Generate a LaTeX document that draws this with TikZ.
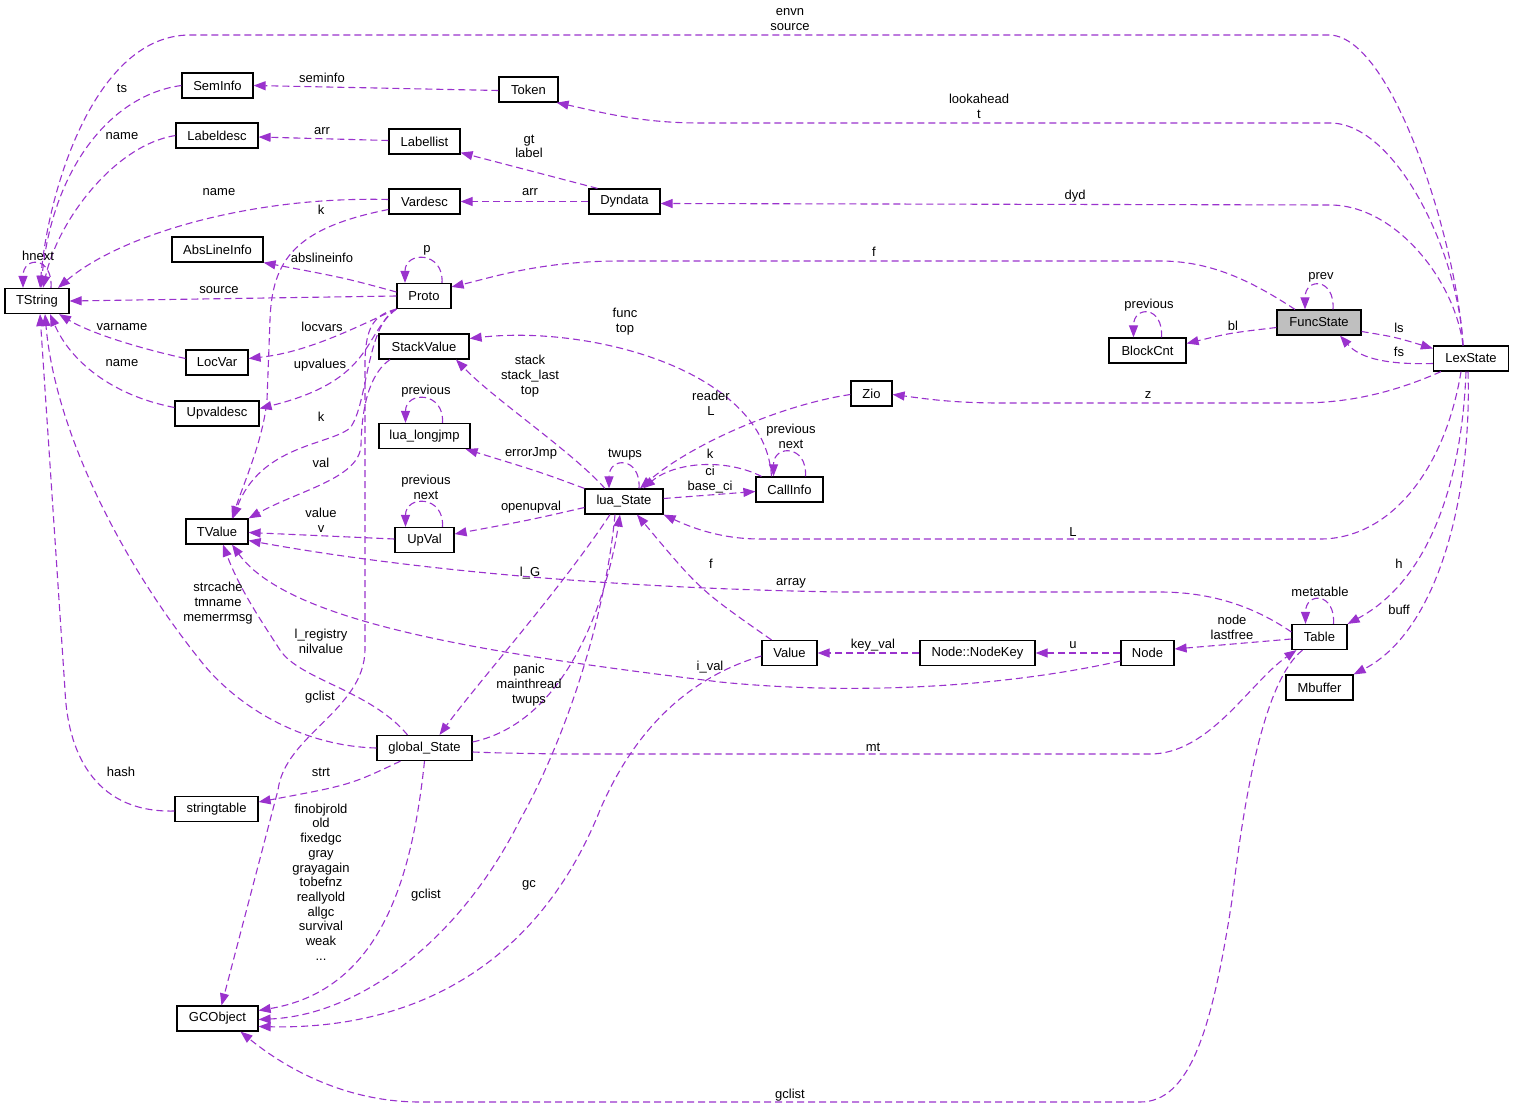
\documentclass[tikz,border=0pt]{standalone}
\usepackage{fontspec}
\setmainfont{Liberation Sans}
\usetikzlibrary{arrows.meta}
\definecolor{orchid}{HTML}{9A32CD}

\begin{document}
\begin{tikzpicture}[
    x=1pt, y=-1pt,
    every node/.style={font=\fontsize{13}{14.7}\selectfont},
    cls/.style={draw=black, line width=1.2pt, inner sep=0pt,
      minimum height=25pt},
    cur/.style={cls, fill=gray!50},
    rel/.style={draw=orchid, dash pattern=on 7pt off 4pt, line width=1.1pt,
      -{Triangle[length=12pt,width=9pt]}},
    lbl/.style={align=center, inner sep=0pt},
  ]
  \useasboundingbox (0,0) rectangle (1513,1108);

  \node[cls, minimum width=64pt] (TString) at (37,301) {TString};
  \node[cls, minimum width=71pt] (SemInfo) at (217.5,85.5) {SemInfo};
  \node[cls, minimum width=82pt] (Labeldesc) at (217,135.5) {Labeldesc};
  \node[cls, minimum width=71pt] (Labellist) at (424.5,141.5) {Labellist};
  \node[cls, minimum width=71pt] (Vardesc) at (424.5,201.5) {Vardesc};
  \node[cls, minimum width=91pt] (AbsLineInfo) at (217.5,249.5) {AbsLineInfo};
  \node[cls, minimum width=54pt] (Proto) at (424,296) {Proto};
  \node[cls, minimum width=59pt] (Token) at (528.5,89.5) {Token};
  \node[cls, minimum width=71pt] (Dyndata) at (624.5,201.5) {Dyndata};
  \node[cur, minimum width=84pt] (FuncState) at (1319,322.5) {FuncState};
  \node[cls, minimum width=77pt] (BlockCnt) at (1147.5,350.5) {BlockCnt};
  \node[cls, minimum width=75pt] (LexState) at (1471,358.5) {LexState};
  \node[cls, minimum width=41pt] (Zio) at (871.5,393.5) {Zio};
  \node[cls, minimum width=90pt] (StackValue) at (424,346.5) {StackValue};
  \node[cls, minimum width=62pt] (LocVar) at (217,362.5) {LocVar};
  \node[cls, minimum width=84pt] (Upvaldesc) at (217,413.5) {Upvaldesc};
  \node[cls, minimum width=91pt] (LongJmp) at (424.5,436) {lua\_longjmp};
  \node[cls, minimum width=67pt] (CallInfo) at (789.5,489.5) {CallInfo};
  \node[cls, minimum width=78pt] (LuaState) at (624,501.5) {lua\_State};
  \node[cls, minimum width=62pt] (TValue) at (217,531.5) {TValue};
  \node[cls, minimum width=59pt] (UpVal) at (424.5,540) {UpVal};
  \node[cls, minimum width=55pt] (Value) at (789.5,653) {Value};
  \node[cls, minimum width=115pt] (NodeKey) at (977.5,653) {Node::NodeKey};
  \node[cls, minimum width=53pt] (Node) at (1147.5,653) {Node};
  \node[cls, minimum width=55pt] (Table) at (1319.5,637) {Table};
  \node[cls, minimum width=67pt] (Mbuffer) at (1319.5,687.5) {Mbuffer};
  \node[cls, minimum width=95pt] (GlobalState) at (424.5,748) {global\_State};
  \node[cls, minimum width=83pt] (StringTable) at (216.5,809) {stringtable};
  \node[cls, minimum width=81pt] (GCObject) at (217.5,1018.5) {GCObject};

  \draw[rel] ([xshift=14pt]TString.north) .. controls +(2,-32) and +(0,-32) .. ([xshift=-14pt]TString.north);
  \draw[rel] ([xshift=-8pt]LexState.north) .. controls (1458,250) and (1395,38) .. (1330,35) -- (190,35) .. controls (95,35) and (48,190) .. ([xshift=3pt]TString.north);
  \draw[rel] (SemInfo.west) .. controls (110,95) and (52,170) .. ([xshift=4pt]TString.north);
  \draw[rel] (Labeldesc.west) .. controls (115,145) and (58,220) .. ([xshift=6pt]TString.north);
  \draw[rel] ([yshift=2pt]Vardesc.west) .. controls (250,196) and (120,235) .. ([xshift=21pt]TString.north);
  \draw[rel] ([yshift=-1pt]Token.west) -- (SemInfo.east);
  \draw[rel] ([yshift=1pt]Labellist.west) -- ([yshift=-1.5pt]Labeldesc.east);
  \draw[rel] ([xshift=-8pt]LexState.north) .. controls (1458,250) and (1395,123) .. (1330,123) -- (700,123) .. controls (640,123) and (600,112) .. ([xshift=-2pt]Token.south east);
  \draw[rel] ([xshift=-8pt]LexState.north) .. controls (1455,280) and (1395,205) .. (1330,205) -- ([yshift=-2pt]Dyndata.east);
  \draw[rel] ([xshift=-24pt]FuncState.north) .. controls (1250,280) and (1210,261) .. (1160,261) -- (620,261) .. controls (540,261) and (490,278) .. ([yshift=-4pt]Proto.north east);
  \draw[rel] ([xshift=14pt]FuncState.north) .. controls +(2,-32) and +(0,-32) .. ([xshift=-14pt]FuncState.north);
  \draw[rel] ([yshift=-5pt]FuncState.west) .. controls (1230,333) .. ([yshift=7pt]BlockCnt.east);
  \draw[rel] ([xshift=14pt]BlockCnt.north) .. controls +(2,-32) and +(0,-32) .. ([xshift=-14pt]BlockCnt.north);
  \draw[rel] ([yshift=-9pt]FuncState.east) .. controls (1395,337) .. ([yshift=10pt]LexState.west);
  \draw[rel] ([yshift=-5pt]LexState.west) .. controls (1380,365) and (1358,356) .. ([xshift=21pt]FuncState.south);
  \draw[rel] ([xshift=-30pt]LexState.south) .. controls (1395,392) and (1350,403) .. (1300,403) -- (1000,403) .. controls (950,403) and (920,398) .. ([yshift=-1pt]Zio.east);
  \draw[rel] ([xshift=-10pt]LexState.south) .. controls (1445,470) and (1390,539) .. (1320,539) -- (760,539) .. controls (720,539) and (690,527) .. (LuaState.south east);
  \draw[rel] ([xshift=-5pt]LexState.south) .. controls (1462,480) and (1430,580) .. (Table.north east);
  \draw[rel] ([xshift=-3pt]LexState.south) .. controls (1472,490) and (1440,630) .. (Mbuffer.north east);
  \draw[rel] ([xshift=-27pt]Dyndata.north) -- ([yshift=2pt]Labellist.south east);
  \draw[rel] (Dyndata.west) -- (Vardesc.east);
  \draw[rel] ([yshift=-8pt]Vardesc.west) .. controls (295,228) and (272,260) .. (270,320) -- (267,400) .. controls (263,440) and (245,480) .. ([xshift=15pt]TValue.north);
  \draw[rel] ([xshift=18pt]Proto.north) .. controls +(2,-32) and +(0,-32) .. ([xshift=-19pt]Proto.north);
  \draw[rel] ([yshift=4pt]Proto.west) .. controls (345,278) .. (AbsLineInfo.south east);
  \draw[rel] (Proto.west) -- (TString.east);
  \draw[rel] (Proto.south west) .. controls (360,325) and (310,352) .. ([yshift=4pt]LocVar.east);
  \draw[rel] (Proto.south west) .. controls (362,335) and (375,380) .. ([yshift=5pt]Upvaldesc.east);
  \draw[rel] (Proto.south west) .. controls (366,325) and (368,405) .. (350,428) .. controls (330,445) and (260,445) .. ([xshift=16pt]TValue.north);
  \draw[rel] (Proto.south west) .. controls (372,315) and (366,330) .. (365,360) -- (365,650) .. controls (364,710) and (285,735) .. (278,790) -- ([xshift=4pt]GCObject.north);
  \draw[rel] ([xshift=-34pt]StackValue.south) .. controls (372,372) and (362,400) .. (361,445) .. controls (360,478) and (300,490) .. (TValue.north east);
  \draw[rel] ([yshift=1pt]UpVal.west) -- ([yshift=-1pt]TValue.east);
  \draw[rel] ([yshift=5pt]Table.west) .. controls (1262,612) and (1220,592) .. (1160,592) -- (840,592) .. controls (600,588) and (400,568) .. ([yshift=-9pt]TValue.east);
  \draw[rel] ([yshift=-8pt]Node.west) .. controls (1000,688) and (850,695) .. (720,682) .. controls (500,655) and (290,625) .. ([xshift=15pt]TValue.south);
  \draw[rel] ([xshift=-17pt]GlobalState.north) .. controls (370,690) and (300,680) .. (280,650) .. controls (262,622) and (240,590) .. ([xshift=6pt]TValue.south);
  \draw[rel] (GlobalState.west) .. controls (300,746) and (235,705) .. (200,660) .. controls (120,560) and (55,430) .. ([xshift=8pt]TString.south);
  \draw[rel] ([yshift=4pt]LocVar.west) .. controls (125,345) and (85,330) .. ([xshift=22pt]TString.south);
  \draw[rel] ([yshift=6pt]Upvaldesc.west) .. controls (110,395) and (70,360) .. ([xshift=13pt]TString.south);
  \draw[rel] ([yshift=-2pt]StringTable.west) .. controls (100,813) and (68,760) .. (65,690) -- ([xshift=3pt]TString.south);
  \draw[rel] ([xshift=-19pt]LuaState.north) .. controls (570,450) and (495,400) .. ([xshift=32pt]StackValue.south);
  \draw[rel] (LuaState.north west) .. controls (540,472) .. ([xshift=-5pt]LongJmp.south east);
  \draw[rel] ([xshift=18pt]LongJmp.north) .. controls +(2,-32) and +(0,-32) .. ([xshift=-19pt]LongJmp.north);
  \draw[rel] ([yshift=-6pt]LuaState.west) .. controls (530,520) .. ([yshift=6pt]UpVal.east);
  \draw[rel] ([xshift=18pt]UpVal.north) .. controls +(2,-32) and +(0,-32) .. ([xshift=-19pt]UpVal.north);
  \draw[rel] ([xshift=-18pt]CallInfo.north) .. controls (765,370) and (590,325) .. ([yshift=8pt]StackValue.east);
  \draw[rel] ([yshift=-1pt]Zio.west) .. controls (780,405) and (690,445) .. ([xshift=16pt]LuaState.north);
  \draw[rel] ([xshift=-28pt]CallInfo.north) .. controls (725,458) and (675,462) .. ([xshift=19pt]LuaState.north);
  \draw[rel] ([yshift=3pt]LuaState.east) -- ([yshift=-2pt]CallInfo.west);
  \draw[rel] ([xshift=15pt]LuaState.north) .. controls +(2,-32) and +(0,-32) .. ([xshift=-15pt]LuaState.north);
  \draw[rel] ([xshift=16pt]CallInfo.north) .. controls +(2,-32) and +(0,-32) .. ([xshift=-16pt]CallInfo.north);
  \draw[rel] ([xshift=-18pt]Value.north) .. controls (700,590) .. ([xshift=13pt]LuaState.south);
  \draw[rel] ([xshift=-14pt]LuaState.south) .. controls (560,590) and (480,680) .. ([xshift=15pt]GlobalState.north);
  \draw[rel] ([yshift=6pt]GlobalState.east) .. controls (575,720) and (610,580) .. ([xshift=-4pt]LuaState.south);
  \draw[rel] ([xshift=-9pt]LuaState.south) .. controls (605,620) and (565,740) .. (520,820) .. controls (460,940) and (360,1015) .. ([yshift=-1pt]GCObject.east);
  \draw[rel] ([yshift=-3pt]Value.west) .. controls (680,680) and (630,740) .. (600,810) .. controls (540,960) and (420,1030) .. ([yshift=-8pt]GCObject.east);
  \draw[rel] (GlobalState.south) .. controls (412,880) and (380,990) .. ([yshift=8pt]GCObject.east);
  \draw[rel] ([xshift=-24pt]GlobalState.south) .. controls (350,785) .. ([yshift=7pt]StringTable.east);
  \draw[rel] ([yshift=-4pt]GlobalState.east) .. controls (500,753) .. (560,754) -- (1150,754) .. controls (1210,754) and (1250,682) .. ([xshift=-23pt]Table.south);
  \draw[rel] ([xshift=-17pt]Table.south) .. controls (1265,680) and (1245,790) .. (1232,900) .. controls (1212,1030) and (1190,1102) .. (1140,1102) -- (420,1102) .. controls (350,1102) and (290,1072) .. ([xshift=23pt]GCObject.south);
  \draw[rel] ([xshift=14pt]Table.north) .. controls +(2,-32) and +(0,-32) .. ([xshift=-14pt]Table.north);
  \draw[rel] ([yshift=-2pt]Table.west) -- ([yshift=4pt]Node.east);
  \draw[rel] (Node.west) -- (NodeKey.east);
  \draw[rel] (NodeKey.west) -- (Value.east);

  \node[lbl] (l-hnext) at (38,256) {hnext};
  \node[lbl] (l-envn) at (790,19.5) {envn\\source};
  \node[lbl] (l-ts) at (122,88) {ts};
  \node[lbl] (l-seminfo) at (322,78) {seminfo};
  \node[lbl] (l-ldname) at (122,136) {name};
  \node[lbl] (l-llarr) at (322,131) {arr};
  \node[lbl] (l-look) at (979,106.5) {lookahead\\t};
  \node[lbl] (l-gt) at (529,146.5) {gt\\label};
  \node[lbl] (l-vdname) at (219,192) {name};
  \node[lbl] (l-ddarr) at (530,192) {arr};
  \node[lbl] (l-dyd) at (1075,196) {dyd};
  \node[lbl] (l-vdk) at (321,210) {k};
  \node[lbl] (l-absl) at (322,258) {abslineinfo};
  \node[lbl] (l-p) at (427,250) {p};
  \node[lbl] (l-f) at (874,252) {f};
  \node[lbl] (l-source) at (219,290) {source};
  \node[lbl] (l-prev) at (1321,277) {prev};
  \node[lbl] (l-bcprev) at (1149,305) {previous};
  \node[lbl] (l-func) at (625,321.5) {func\\top};
  \node[lbl] (l-bl) at (1233,326) {bl};
  \node[lbl] (l-ls) at (1399,328) {ls};
  \node[lbl] (l-varname) at (122,327) {varname};
  \node[lbl] (l-locvars) at (322,327) {locvars};
  \node[lbl] (l-fs) at (1399,352) {fs};
  \node[lbl] (l-stack) at (530,376) {stack\\stack\_last\\top};
  \node[lbl] (l-uvname) at (122,363) {name};
  \node[lbl] (l-upvalues) at (320,365) {upvalues};
  \node[lbl] (l-ljprev) at (426,391) {previous};
  \node[lbl] (l-z) at (1148,395) {z};
  \node[lbl] (l-reader) at (711,403) {reader\\L};
  \node[lbl] (l-pk) at (321,417) {k};
  \node[lbl] (l-ciprev) at (791,436) {previous\\next};
  \node[lbl] (l-errorjmp) at (531,453) {errorJmp};
  \node[lbl] (l-twups) at (625,455) {twups};
  \node[lbl] (l-cik) at (710,454) {k};
  \node[lbl] (l-ci) at (710,479.5) {ci\\base\_ci};
  \node[lbl] (l-uvprev) at (426,487.5) {previous\\next};
  \node[lbl] (l-openupval) at (531,507) {openupval};
  \node[lbl] (l-val) at (321,463) {val};
  \node[lbl] (l-value) at (321,520.5) {value\\v};
  \node[lbl] (l-L) at (1073,532) {L};
  \node[lbl] (l-h) at (1399,564) {h};
  \node[lbl] (l-vf) at (711,564) {f};
  \node[lbl] (l-lG) at (530,573) {l\_G};
  \node[lbl] (l-array) at (791,583) {array};
  \node[lbl] (l-metatable) at (1320,592) {metatable};
  \node[lbl] (l-strcache) at (218,603) {strcache\\tmname\\memerrmsg};
  \node[lbl] (l-buff) at (1399,610) {buff};
  \node[lbl] (l-node) at (1232,627) {node\\lastfree};
  \node[lbl] (l-lreg) at (321,641.5) {l\_registry\\nilvalue};
  \node[lbl] (l-keyval) at (873,645) {key\_val};
  \node[lbl] (l-u) at (1073,645) {u};
  \node[lbl] (l-ival) at (710,667) {i\_val};
  \node[lbl] (l-panic) at (529,685) {panic\\mainthread\\twups};
  \node[lbl] (l-pgclist) at (320,697) {gclist};
  \node[lbl] (l-mt) at (873,747) {mt};
  \node[lbl] (l-hash) at (121,772) {hash};
  \node[lbl] (l-strt) at (321,772) {strt};
  \node[lbl] (l-finobj) at (321,882) {finobjrold\\old\\fixedgc\\gray\\grayagain\\tobefnz\\reallyold\\allgc\\survival\\weak\\...};
  \node[lbl] (l-lgclist) at (426,895) {gclist};
  \node[lbl] (l-gc) at (529,885) {gc};
  \node[lbl] (l-tgclist) at (790,1095) {gclist};
\end{tikzpicture}
\end{document}
